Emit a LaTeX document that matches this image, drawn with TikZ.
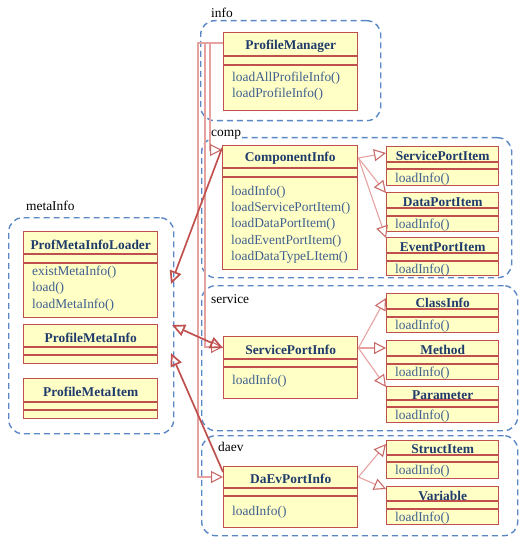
\documentclass[tikz,border=0pt]{standalone}
\usepackage{fontspec}
\setmainfont{Liberation Serif}
\usetikzlibrary{arrows.meta}

\definecolor{boxred}{HTML}{C0504D}
\definecolor{boxfill}{HTML}{FFFFC6}
\definecolor{titlecol}{HTML}{1F3B6B}
\definecolor{opscol}{HTML}{3E5F8F}
\definecolor{pkgblue}{HTML}{5B87C5}
\definecolor{pinkline}{HTML}{E6A1A1}

\tikzset{
  classbox/.style={draw=boxred, fill=boxfill, line width=1.4pt, inner sep=0pt},
  classline/.style={draw=boxred, line width=1.3pt},
  classtitle/.style={font=\fontsize{13.4}{16}\selectfont\bfseries, text=titlecol, inner sep=0pt},
  classops/.style={font=\fontsize{13.4}{16.3}\selectfont, text=opscol, align=left, inner sep=0pt},
  pkg/.style={draw=pkgblue, line width=1.4pt, dash pattern=on 6pt off 4pt, rounded corners=14pt, inner sep=0pt},
  pkglabel/.style={font=\fontsize{13.4}{16}\selectfont, inner sep=1pt},
  opentip/.tip={Triangle[open, length=13pt, width=12pt, color=boxred]},
  deptip/.tip={Triangle[open, length=12pt, width=12pt, color=boxred!85]},
  dep/.style={draw=pinkline, line width=1.1pt, -{deptip}},
  assoc/.style={draw=boxred, line width=1.7pt},
}

% #1 name, #2 top-left corner, #3 width, #4 height, #5 title row height,
% #6 attribute row height, #7 class name, #8 gap above operations, #9 operations
\newcommand\umlclass[9]{%
  \node[classbox, minimum width=#3, minimum height=#4, anchor=north west] (#1) at (#2) {};
  \draw[classline] ([yshift=-#5]#1.north west) -- ([yshift=-#5]#1.north east)
                   ([yshift={-(#5+#6)}]#1.north west) -- ([yshift={-(#5+#6)}]#1.north east);
  \node[classtitle] at ([yshift={-#5/2-2}]#1.north) {#7};
  \node[classops, anchor=north west] at ([xshift=9, yshift={-(#5+#6+#8)}]#1.north west) {#9};
}

\begin{document}
\begin{tikzpicture}[x=1pt, y=-1pt]
\useasboundingbox (0,0) rectangle (519,537);

% packages
\node[pkg, minimum width=180, minimum height=100, anchor=north west] (pinfo) at (200,20) {};
\node[pkg, minimum width=310, minimum height=140, anchor=north west] (pcomp) at (201,137) {};
\node[pkg, minimum width=316, minimum height=145, anchor=north west] (pserv) at (201,285) {};
\node[pkg, minimum width=316, minimum height=100, anchor=north west] (pdaev) at (201,435) {};
\node[pkg, minimum width=165, minimum height=216, anchor=north west] (pmeta) at (8,217) {};

\node[pkglabel, anchor=base west] (linfo) at (210,18) {info};
\node[pkglabel, anchor=base west, fill=white] (lcomp) at (210,137) {comp};
\node[pkglabel, anchor=base west] (lserv) at (210,303) {service};
\node[pkglabel, anchor=base west] (ldaev) at (217,451) {daev};
\node[pkglabel, anchor=base west] (lmeta) at (25,210) {metaInfo};

% classes
\umlclass{pm}{223,32}{134}{78}{24}{9}{ProfileManager}{6.5}{loadAllProfileInfo()\\loadProfileInfo()}
\umlclass{ci}{222,145}{135}{124}{23}{9}{ComponentInfo}{8.5}{loadInfo()\\loadServicePortItem()\\loadDataPortItem()\\loadEventPortItem()\\loadDataTypeLItem()}
\umlclass{spitem}{386,146}{112}{39}{16}{7}{ServicePortItem}{3.5}{loadInfo()}
\umlclass{dpitem}{386,192}{112}{39}{16}{8}{DataPortItem}{2.5}{loadInfo()}
\umlclass{epitem}{386,237}{112}{38}{16}{8}{EventPortItem}{2.5}{loadInfo()}

\umlclass{spi}{223,336}{134}{62}{23}{8}{ServicePortInfo}{7.5}{loadInfo()}
\umlclass{clsinfo}{386,293}{112}{39}{16}{8}{ClassInfo}{2.5}{loadInfo()}
\umlclass{method}{386,340}{112}{39}{16}{8}{Method}{2.5}{loadInfo()}
\umlclass{param}{386,386}{112}{36}{14}{7}{Parameter}{2.5}{loadInfo()}

\umlclass{dpi}{223,466}{134}{61}{22}{8}{DaEvPortInfo}{9.5}{loadInfo()}
\umlclass{struct}{386,440}{112}{38}{15}{7}{StructItem}{2.5}{loadInfo()}
\umlclass{variable}{386,486}{112}{38}{15}{8}{Variable}{2.5}{loadInfo()}

\umlclass{pmil}{23,231}{134}{86}{23}{9}{ProfMetaInfoLoader}{3}{existMetaInfo()\\load()\\loadMetaInfo()}
\umlclass{pmi}{23,324}{134}{39}{23}{8}{ProfileMetaInfo}{0}{}
\umlclass{pmitem}{23,378}{134}{40}{24}{8}{ProfileMetaItem}{0}{}

% ProfileManager uses the three info classes
\coordinate (jc) at (210,100);
\coordinate (js) at (205,200);
\coordinate (jd) at (198,300);
\draw[dep] ([yshift=-11]pm.north west) -| (jc) |- ([yshift=-5]ci.north west);
\draw[dep] ([yshift=-11]pm.north west) -| (js) |- ([yshift=-11]spi.north west);
\draw[dep] ([yshift=-11]pm.north west) -| (jd) |- ([yshift=-11]dpi.north west);

% links to the metaInfo package
\coordinate (mA) at (171,284);
\coordinate (mB) at (172,325);
\coordinate (mC) at (171,353);
\draw[assoc, -{opentip}] ([yshift=-3]ci.north west) -- (mA);
\draw[assoc, {opentip}-{opentip}] (mB) -- ([yshift=-12]spi.north west);
\draw[assoc, -{opentip}] ([yshift=-6]dpi.north west) -- (mC);

% component items
\draw[dep] ([yshift=-13]ci.north east) -- ([yshift=-7]spitem.north west);
\draw[dep] ([yshift=-13]ci.north east) -- ([yshift=-1]dpitem.north west);
\draw[dep] ([yshift=-13]ci.north east) -- ([yshift=-1]epitem.north west);

% service items
\draw[dep] ([yshift=-12]spi.north east) -- ([yshift=-5]clsinfo.north west);
\draw[dep] ([yshift=-12]spi.north east) -- ([yshift=-8]method.north west);
\draw[dep] ([yshift=-12]spi.north east) -- ([yshift=-1]param.north west);

% data/event items
\draw[dep] ([yshift=-11]dpi.north east) -- ([yshift=-4]struct.north west);
\draw[dep] ([yshift=-11]dpi.north east) -- ([yshift=-3]variable.north west);
\end{tikzpicture}
\end{document}
